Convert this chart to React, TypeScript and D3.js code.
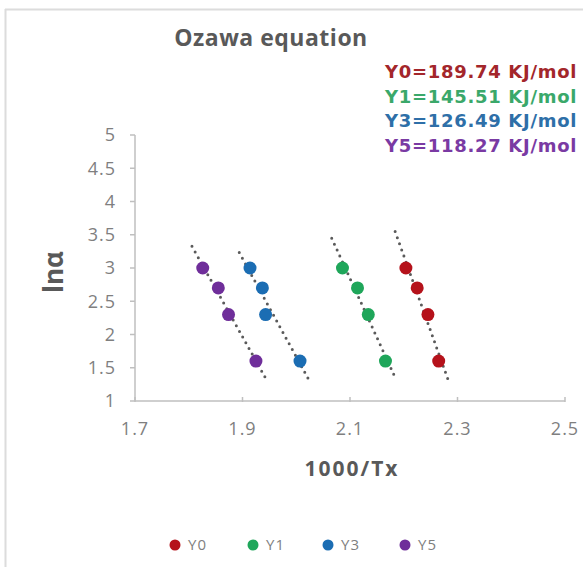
import React from 'react';
import * as d3 from 'd3';

// ln(alpha) values, same for every heating rate
const lnAlpha = [3.0, 2.7, 2.3, 1.6];

const seriesNames = ['Y0', 'Y1', 'Y3', 'Y5'];
const y0X = [2.204, 2.225, 2.245, 2.265];
const y1X = [2.086, 2.114, 2.134, 2.166];
const y3X = [1.914, 1.937, 1.943, 2.007];
const y5X = [1.826, 1.855, 1.874, 1.925];
const seriesColors = ['#b5121b', '#1fa65a', '#1b6db3', '#6f2e9a'];
const noteColors = ['#a3262b', '#3aa86a', '#2e6fa8', '#7a3aa3'];
const energies = ['Y0=189.74 KJ/mol', 'Y1=145.51 KJ/mol', 'Y3=126.49 KJ/mol', 'Y5=118.27 KJ/mol'];

const xTicks = [1.7, 1.9, 2.1, 2.3, 2.5];
const yTicks = [1, 1.5, 2, 2.5, 3, 3.5, 4, 4.5, 5];

const W = 583;
const H = 567;
const FONT = "'Open Sans', sans-serif";

function fit(xs: number[], ys: number[]) {
  const mx = d3.mean(xs)!;
  const my = d3.mean(ys)!;
  let sxy = 0, sxx = 0;
  xs.forEach((x, i) => { sxy += (x - mx) * (ys[i] - my); sxx += (x - mx) ** 2; });
  const b = sxy / sxx;
  return (x: number) => my + b * (x - mx);
}

const App: React.FC = () => {
  const x = d3.scaleLinear().domain([1.7, 2.5]).range([135, 565]);
  const y = d3.scaleLinear().domain([1, 5]).range([401, 135]);
  const allX = [y0X, y1X, y3X, y5X];
  const forecast = 0.02;

  return (
    <svg width={W} height={H} style={{ position: 'absolute', left: 0, top: 0, background: '#fff' }}>
      <rect width={W} height={H} fill="#fff" />
      <line x1={5} x2={W} y1={9.5} y2={9.5} stroke="#dcdcdc" strokeWidth={2} />
      <line x1={5.5} x2={5.5} y1={9} y2={H} stroke="#dcdcdc" strokeWidth={2} />

      <text x={271} y={46} textAnchor="middle" fontFamily={FONT} fontWeight="bold" fontSize={23} letterSpacing={0.5} fill="#595959">
        Ozawa equation
      </text>

      {energies.map((t, i) => (
        <text key={t} x={385} y={78 + i * 24.5} fontFamily="'DejaVu Sans', sans-serif" fontWeight="bold" fontSize={18} letterSpacing={0.7} fill={noteColors[i]}>
          {t}
        </text>
      ))}

      {/* axes */}
      <line x1={x(1.7)} x2={x(2.5)} y1={y(1)} y2={y(1)} stroke="#bfbfbf" strokeWidth={1.5} />
      <line x1={x(1.7)} x2={x(1.7)} y1={y(1)} y2={y(5)} stroke="#bfbfbf" strokeWidth={1.5} />
      {yTicks.map(t => (
        <g key={t}>
          <line x1={x(1.7) - 5} x2={x(1.7)} y1={y(t)} y2={y(t)} stroke="#bfbfbf" strokeWidth={1.5} />
          <text x={116} y={y(t)} dy="0.35em" textAnchor="end" fontFamily={FONT} fontSize={18} letterSpacing={1} fill="#7f7f7f">{t}</text>
        </g>
      ))}
      {xTicks.map(t => (
        <g key={t}>
          <line x1={x(t)} x2={x(t)} y1={y(1) - 4} y2={y(1) + 1} stroke="#bfbfbf" strokeWidth={1.5} />
          <text x={x(t)} y={429} dy="0.35em" textAnchor="middle" fontFamily={FONT} fontSize={18} letterSpacing={1} fill="#7f7f7f">{t}</text>
        </g>
      ))}

      <text transform={`translate(63,272) rotate(-90)`} textAnchor="middle" fontFamily={FONT} fontWeight="bold" fontSize={26} fill="#595959">lnα</text>
      <text x={352} y={476} textAnchor="middle" fontFamily={FONT} fontWeight="bold" fontSize={21} letterSpacing={2} fill="#595959">1000/Tx</text>

      {/* trendlines */}
      {allX.map((xs, i) => {
        const f = fit(xs, lnAlpha);
        const a = d3.min(xs)! - forecast;
        const b = d3.max(xs)! + forecast;
        return (
          <line key={'t' + i} x1={x(a)} y1={y(f(a))} x2={x(b)} y2={y(f(b))}
            stroke="#5a5a5a" strokeWidth={3} strokeDasharray="0 6.5" strokeLinecap="round" />
        );
      })}

      {/* points */}
      {allX.map((xs, i) => xs.map((v, j) => (
        <circle key={i + '-' + j} cx={x(v)} cy={y(lnAlpha[j])} r={6.5} fill={seriesColors[i]} />
      )))}

      {/* legend */}
      {seriesNames.map((n, i) => {
        const lx = [175, 253, 328, 405][i];
        return (
          <g key={n}>
            <circle cx={lx} cy={545} r={5.5} fill={seriesColors[i]} />
            <text x={lx + 13} y={545} dy="0.35em" fontFamily={FONT} fontSize={15} letterSpacing={1} fill="#7f7f7f">{n}</text>
          </g>
        );
      })}
    </svg>
  );
};

export default App;
